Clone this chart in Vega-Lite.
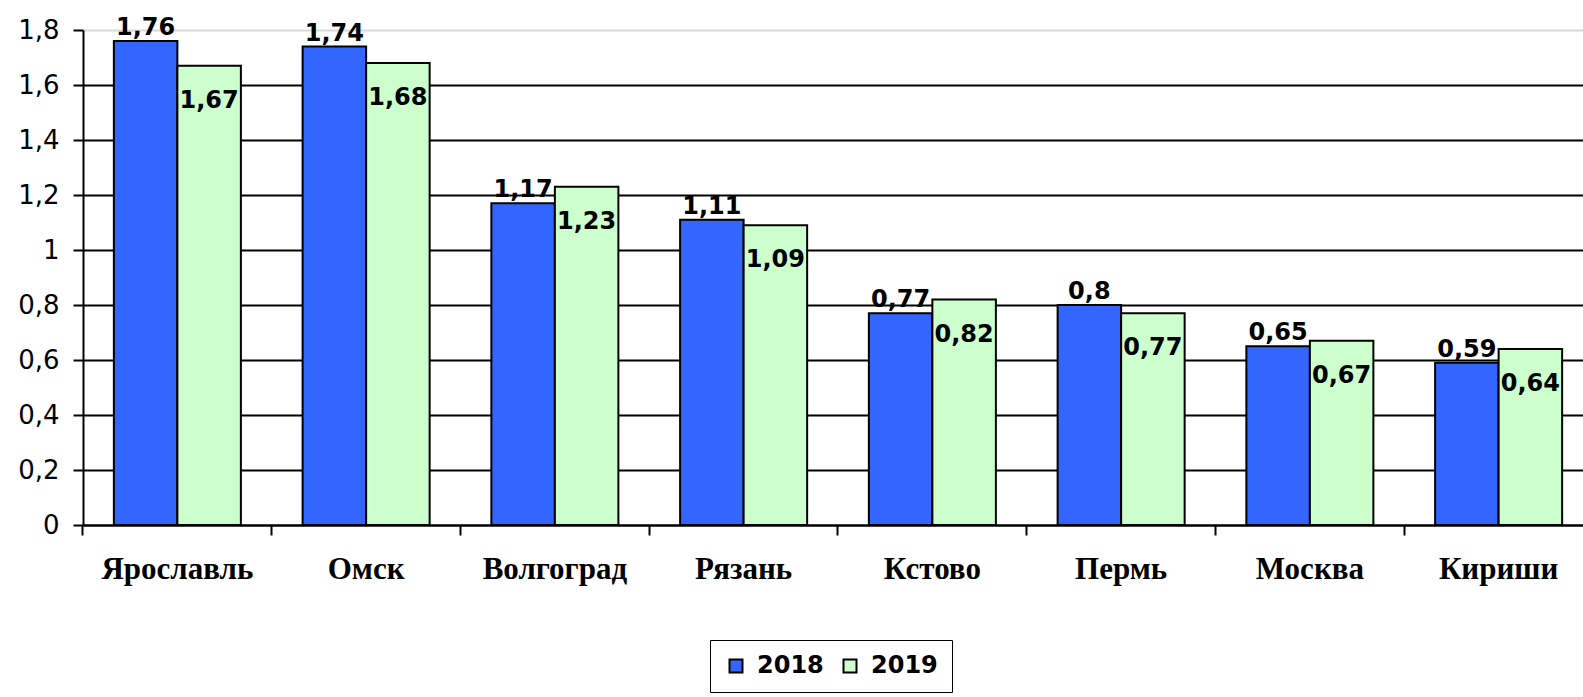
{
  "$schema": "https://vega.github.io/schema/vega-lite/v6.json",
  "width": 1510,
  "height": 495,
  "autosize": "none",
  "padding": {"left": 83, "top": 30, "right": 0, "bottom": 172},
  "config": {
    "locale": {"number": {"decimal": ",", "thousands": " ", "grouping": [3], "currency": ["", ""]}},
    "view": {"stroke": null},
    "font": "DejaVu Sans"
  },
  "data": {
    "values": [
      {"city": "Ярославль", "year": "2018", "value": 1.76},
      {"city": "Ярославль", "year": "2019", "value": 1.67},
      {"city": "Омск", "year": "2018", "value": 1.74},
      {"city": "Омск", "year": "2019", "value": 1.68},
      {"city": "Волгоград", "year": "2018", "value": 1.17},
      {"city": "Волгоград", "year": "2019", "value": 1.23},
      {"city": "Рязань", "year": "2018", "value": 1.11},
      {"city": "Рязань", "year": "2019", "value": 1.09},
      {"city": "Кстово", "year": "2018", "value": 0.77},
      {"city": "Кстово", "year": "2019", "value": 0.82},
      {"city": "Пермь", "year": "2018", "value": 0.8},
      {"city": "Пермь", "year": "2019", "value": 0.77},
      {"city": "Москва", "year": "2018", "value": 0.65},
      {"city": "Москва", "year": "2019", "value": 0.67},
      {"city": "Кириши", "year": "2018", "value": 0.59},
      {"city": "Кириши", "year": "2019", "value": 0.64}
    ]
  },
  "encoding": {
    "x": {
      "field": "city", "type": "nominal", "sort": null,
      "scale": {"paddingInner": 0.327, "paddingOuter": 0.1635},
      "axis": {
        "title": null, "labelAngle": 0,
        "labelFont": "Liberation Serif", "labelFontWeight": "bold", "labelFontSize": 31, "labelColor": "black",
        "domainColor": "black", "domainWidth": 2,
        "tickColor": "black", "tickSize": 10, "tickWidth": 2,
        "bandPosition": -0.243, "labelPadding": 19, "grid": false
      }
    },
    "xOffset": {"field": "year", "type": "nominal"},
    "y": {
      "field": "value", "type": "quantitative",
      "scale": {"domain": [0, 1.8], "nice": false},
      "axis": {
        "title": null,
        "values": [0, 0.2, 0.4, 0.6, 0.8, 1, 1.2, 1.4, 1.6, 1.8],
        "format": "~g",
        "grid": true,
        "gridColor": {"condition": {"test": "datum.value >= 1.79", "value": "#d9d9d9"}, "value": "black"},
        "gridWidth": 2,
        "domainColor": "black", "domainWidth": 2,
        "tickColor": "black", "tickSize": 10, "tickWidth": 2,
        "labelFontSize": 26, "labelColor": "black", "labelPadding": 14
      }
    }
  },
  "layer": [
    {
      "mark": {"type": "bar", "stroke": "black", "strokeWidth": 2},
      "encoding": {
        "color": {
          "field": "year", "type": "nominal",
          "scale": {"domain": ["2018", "2019"], "range": ["#3366FF", "#CCFFCC"]},
          "legend": {
            "orient": "none", "legendX": 627, "legendY": 610,
            "direction": "horizontal", "title": null,
            "strokeColor": "black", "padding": 14,
            "symbolType": "square", "symbolSize": 169,
            "symbolStrokeColor": "black", "symbolStrokeWidth": 2,
            "labelFont": "DejaVu Sans", "labelFontWeight": "bold", "labelFontSize": 24, "labelColor": "black",
            "columnPadding": 14, "labelOffset": 9
          }
        }
      }
    },
    {
      "transform": [{"filter": "datum.year == '2018'"}],
      "mark": {"type": "text", "baseline": "alphabetic", "dy": -6, "fontWeight": "bold", "fontSize": 24, "color": "black"},
      "encoding": {"text": {"field": "value", "type": "quantitative", "format": "~g"}}
    },
    {
      "transform": [{"filter": "datum.year == '2019'"}],
      "mark": {"type": "text", "baseline": "middle", "dy": 35, "fontWeight": "bold", "fontSize": 24, "color": "black"},
      "encoding": {"text": {"field": "value", "type": "quantitative", "format": "~g"}}
    }
  ]
}
